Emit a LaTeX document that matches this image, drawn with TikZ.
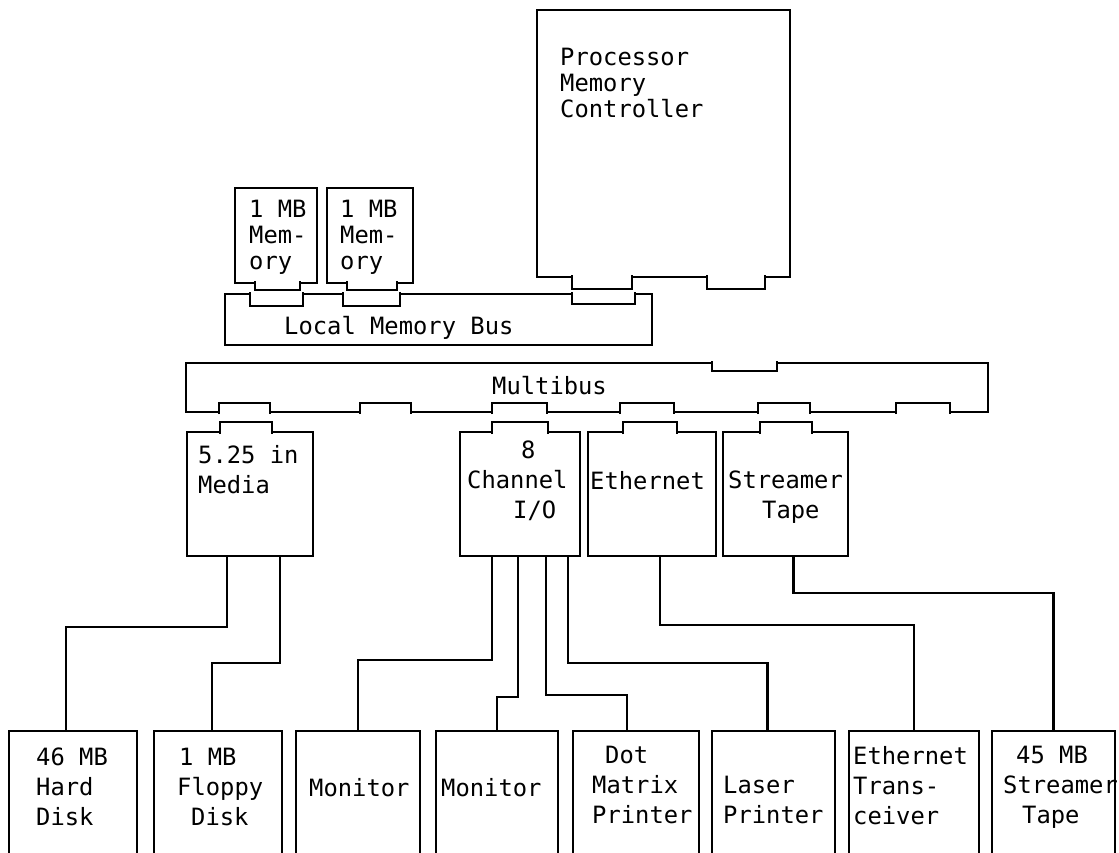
\documentclass[tikz,border=0pt]{standalone}
\usepackage{fontspec}
\setmonofont{DejaVu Sans Mono}
\usetikzlibrary{calc}
\tikzset{
  board/.style={draw, line width=2.8pt, anchor=north west, inner sep=0pt, outer sep=0pt},
  tabline/.style={draw, fill=white, line width=2.8pt},
  wire/.style={draw, line width=2.8pt},
  boardlab/.style={font=\ttfamily\fontsize{23.8}{30}\selectfont, align=left,
    anchor=north west, inner sep=0pt},
  cardlab/.style={boardlab, font=\ttfamily\fontsize{23.8}{26}\selectfont},
}

\begin{document}
\begin{tikzpicture}[x=1pt, y=-1pt]
\useasboundingbox (0,0) rectangle (1119,853);
\clip (0,0) rectangle (1119,853);
% --- processor and local memory ---
\node[board, minimum width=253, minimum height=267] (pmc) at (537,10) {};
\node[board, minimum width=82, minimum height=95] (memA) at (235,188) {};
\node[board, minimum width=86, minimum height=95] (memB) at (327,188) {};
\node[board, minimum width=427, minimum height=51] (lmbus) at (225,294) {};
\draw[tabline] (572,275) |- (632,289) -- (632,275);
\draw[tabline] (707,275) |- (765,289) -- (765,275);
\draw[tabline] (255,281) |- (300,290) -- (300,281);
\draw[tabline] (347,281) |- (397,290) -- (397,281);
\draw[tabline] (250,292) |- (303,306) -- (303,292);
\draw[tabline] (343,292) |- (400,306) -- (400,292);
\draw[tabline] (572,292) |- (635,304) -- (635,292);
\node[cardlab] (pmclab) at (560,48) {Processor\\Memory\\Controller};
\node[cardlab] (memAlab) at (249,200) {1 MB\\Mem-\\ory};
\node[cardlab] (memBlab) at (340,200) {1 MB\\Mem-\\ory};
\node[boardlab] (lmbuslab) at (284,316) {Local Memory Bus};
% --- multibus and boards ---
\node[board, minimum width=802, minimum height=49] (mbus) at (186,363) {};
\node[board, minimum width=126, minimum height=124] (media) at (187,432) {};
\node[board, minimum width=120, minimum height=124] (chio) at (460,432) {};
\node[board, minimum width=128, minimum height=124] (ether) at (588,432) {};
\node[board, minimum width=125, minimum height=124] (stream) at (723,432) {};
\draw[tabline] (712,361) |- (777,371) -- (777,361);
\draw[tabline] (219,414) |- (270,403) -- (270,414);
\draw[tabline] (360,414) |- (411,403) -- (411,414);
\draw[tabline] (492,414) |- (547,403) -- (547,414);
\draw[tabline] (620,414) |- (674,403) -- (674,414);
\draw[tabline] (758,414) |- (810,403) -- (810,414);
\draw[tabline] (896,414) |- (950,403) -- (950,414);
\draw[tabline] (220,434) |- (272,422) -- (272,434);
\draw[tabline] (492,434) |- (548,422) -- (548,434);
\draw[tabline] (623,434) |- (677,422) -- (677,434);
\draw[tabline] (760,434) |- (812,422) -- (812,434);
\node[boardlab] (mbuslab) at (492,376) {Multibus};
\node[boardlab] (medialab) at (198,445) {5.25 in\\Media};
\node[boardlab] (chiolab) at (467,441) {\hspace*{54pt}8\\Channel\\\hspace*{46pt}I/O};
\node[boardlab] (etherlab) at (590,471) {Ethernet};
\node[boardlab] (streamlab) at (728,471) {Streamer\\\hspace*{34pt}Tape};
% --- peripherals ---
\node[board, minimum width=128, minimum height=200] (hdisk) at (9,731) {};
\node[board, minimum width=128, minimum height=200] (floppy) at (154,731) {};
\node[board, minimum width=124, minimum height=200] (monA) at (296,731) {};
\node[board, minimum width=122, minimum height=200] (monB) at (436,731) {};
\node[board, minimum width=126, minimum height=200] (dotmx) at (573,731) {};
\node[board, minimum width=123, minimum height=200] (laser) at (712,731) {};
\node[board, minimum width=130, minimum height=200] (etrx) at (849,731) {};
\node[board, minimum width=123, minimum height=200] (stape) at (992,731) {};
\node[boardlab] (hdisklab) at (36,748) {46 MB\\Hard\\Disk};
\node[boardlab] (floppylab) at (177,748) {\hspace*{2pt}1 MB\\Floppy\\\hspace*{14pt}Disk};
\node[boardlab] (monAlab) at (309,778) {Monitor};
\node[boardlab] (monBlab) at (441,778) {Monitor};
\node[boardlab] (dotmxlab) at (592,746) {\hspace*{13pt}Dot\\Matrix\\Printer};
\node[boardlab] (laserlab) at (723,776) {Laser\\Printer};
\node[boardlab] (etrxlab) at (853,746) {Ethernet\\Trans-\\ceiver};
\node[boardlab] (stapelab) at (1003,746) {\hspace*{13pt}45 MB\\Streamer\\\hspace*{19pt}Tape};
% --- cables ---
\draw[wire] ($(media.south)+(-23,0)$) -- ++(0,71) -| ($(hdisk.north)+(-7,0)$);
\draw[wire] ($(media.south)+(30,0)$) -- ++(0,107) -| ($(floppy.north)+(-6,0)$);
\draw[wire] ($(chio.south)+(-28,0)$) -- ++(0,104) -| (monA.north);
\draw[wire] ($(chio.south)+(-2,0)$) -- ++(0,141) -| (monB.north);
\draw[wire] ($(chio.south)+(26,0)$) -- ++(0,139) -| ($(dotmx.north)+(-9,0)$);
\draw[wire] ($(chio.south)+(48,0)$) -- ++(0,107) -| ($(laser.north)+(-6,0)$);
\draw[wire] ($(ether.south)+(8,0)$) -- ++(0,69) -| (etrx.north);
\draw[wire] ($(stream.south)+(8,0)$) -- ++(0,37) -| (stape.north);
\end{tikzpicture}
\end{document}
